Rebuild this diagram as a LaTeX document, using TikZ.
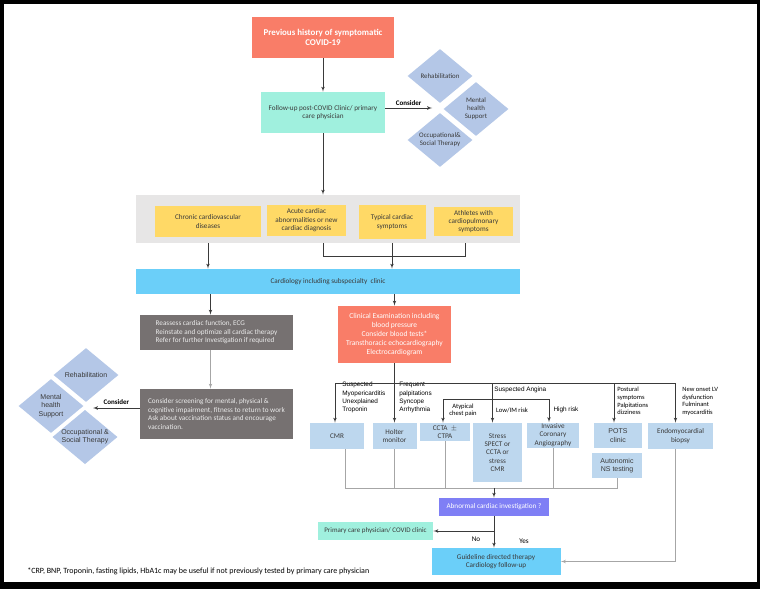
\documentclass[tikz,border=0pt]{standalone}
\usepackage{fontspec}
\setmainfont{Carlito}
\newfontfamily\arialfont{Liberation Sans}
\usetikzlibrary{shapes.geometric,arrows}
\definecolor{mysalmon}{HTML}{F97D68}
\definecolor{mymint}{HTML}{A0F0DE}
\definecolor{myband}{HTML}{E7E6E6}
\definecolor{myyellow}{HTML}{FFD966}
\definecolor{mycyan}{HTML}{6BCFF9}
\definecolor{mydark}{HTML}{767171}
\definecolor{mytest}{HTML}{BDD7EE}
\definecolor{mypad}{HTML}{B4C7E7}
\definecolor{mypurple}{HTML}{7F7FF5}
\definecolor{mytext}{HTML}{3A3A3A}
\definecolor{mygrey}{HTML}{A6A6A6}
\definecolor{myline}{HTML}{3A3A3A}
\tikzstyle{block} = [rectangle, align=center, inner sep=1pt, text=mytext,
font=\fontsize{7.2}{8.4}\selectfont]
\tikzstyle{pad} = [diamond, fill=mypad, aspect=1.2, inner sep=0pt, align=center, text=mytext,
minimum width=65pt, minimum height=54pt, font=\fontsize{6.9}{8}\selectfont]
\tikzstyle{lbl} = [align=left, inner sep=0pt, text=black, font=\arialfont\fontsize{6.4}{8.3}\selectfont]
\tikzstyle{line} = [draw=myline, -latex']
\tikzstyle{gline} = [draw=mygrey]

\begin{document}
\begin{tikzpicture}[x=1pt, y=-1pt, line width=0.7pt]
    \useasboundingbox (0,0) rectangle (760,589);
    % frame
    \fill[black] (0,0) rectangle (760,589);
    \fill[white] (4,4) rectangle (757,582);

    % Nodes
    \node [block, fill=mysalmon, text=white, font=\bfseries\fontsize{8.9}{10.5}\selectfont,
      minimum width=142pt, minimum height=41pt] (history) at (323,37.5) {Previous history of symptomatic\\COVID-19};
    \node [block, fill=mymint, minimum width=124pt, minimum height=41pt] (followup) at (323,112.5) {Follow-up post-COVID Clinic/ primary\\care physician};
    \node [pad] (rehabTop) at (440,76) {Rehabilitation};
    \node [pad] (mentalTop) at (476,109) {Mental\\health\\Support};
    \node [pad] (occupTop) at (440,140) {Occupational\&\\Social Therapy};

    \node [block, fill=myband, minimum width=384pt, minimum height=48pt] (band) at (328,219) {};
    \node [block, fill=myyellow, minimum width=106pt, minimum height=31pt] (chronic) at (208,221.5) {Chronic cardiovascular\\diseases};
    \node [block, fill=myyellow, minimum width=79pt, minimum height=31pt] (acute) at (306.5,220.5) {Acute cardiac\\abnormalities or new\\cardiac diagnosis};
    \node [block, fill=myyellow, minimum width=67pt, minimum height=34pt] (typical) at (392,222) {Typical cardiac\\symptoms};
    \node [block, fill=myyellow, minimum width=79pt, minimum height=29pt] (athletes) at (473.5,221.5) {Athletes with\\cardiopulmonary\\symptoms};

    \node [block, fill=mycyan, minimum width=384pt, minimum height=25pt] (cardio) at (328,281.5) {Cardiology including subspecialty\ \ clinic};

    \node [block, fill=mydark, text=white!92!black, align=left, minimum width=153pt, minimum height=35pt] (reassess) at (216.5,332.5) {Reassess cardiac function, ECG\\Reinstate and optimize all cardiac therapy\\Refer for further Investigation if required};
    \node [block, fill=mydark, text=white!92!black, align=left, minimum width=153pt, minimum height=50pt] (screen) at (216.5,414) {Consider screening for mental, physical \&\\cognitive impairment, fitness to return to work\\Ask about vaccination status and encourage\\vaccination.};
    \node [pad, font=\arialfont\fontsize{7}{8.2}\selectfont] (rehabLeft) at (86,375) {Rehabilitation};
    \node [pad, font=\arialfont\fontsize{7}{8.2}\selectfont] (mentalLeft) at (51,406) {Mental\\health\\Support};
    \node [pad, font=\arialfont\fontsize{7}{8.2}\selectfont] (occupLeft) at (85,437) {Occupational \&\\Social Therapy};

    \node [block, fill=mysalmon, text=white, font=\fontsize{7.5}{8.9}\selectfont, minimum width=113pt, minimum height=57pt] (clin) at (394.5,334.5) {Clinical Examination including\\blood pressure\\Consider blood tests*\\Transthoracic echocardiography\\Electrocardiogram};

    \node [block, fill=mytest, minimum width=54pt, minimum height=26pt] (cmr) at (337,436) {CMR};
    \node [block, fill=mytest, minimum width=44pt, minimum height=26pt] (holter) at (394.5,436) {Holter\\monitor};
    \node [block, fill=mytest, minimum width=50pt, minimum height=18pt] (ccta) at (445,432) {CCTA\ \ $\pm$\\CTPA};
    \node [block, fill=mytest, minimum width=49pt, minimum height=59pt] (stress) at (497.5,452.5) {Stress\\SPECT or\\CCTA or\\stress\\CMR};
    \node [block, fill=mytest, minimum width=52pt, minimum height=24pt] (invasive) at (553,435) {Invasive\\Coronary\\Angiography};
    \node [block, fill=mytest, font=\arialfont\fontsize{7}{8.2}\selectfont, minimum width=48pt, minimum height=25pt] (pots) at (618,435.5) {POTS\\clinic};
    \node [block, fill=mytest, font=\arialfont\fontsize{7}{8.2}\selectfont, minimum width=50pt, minimum height=25pt] (auto) at (617,465.5) {Autonomic\\NS testing};
    \node [block, fill=mytest, minimum width=65pt, minimum height=26pt] (endo) at (680.5,436) {Endomyocardial\\biopsy};

    \node [block, fill=mypurple, text=white, minimum width=110pt, minimum height=18pt] (abnormal) at (494,507) {Abnormal cardiac investigation ?};
    \node [block, fill=mymint, font=\fontsize{7}{8.2}\selectfont, minimum width=115pt, minimum height=18pt] (prim) at (375.5,531) {Primary care physician/ COVID clinic};
    \node [block, fill=mycyan, minimum width=129pt, minimum height=27pt] (guide) at (496,561.5) {Guideline directed therapy\\Cardiology follow-up};

    % labels
    \node [lbl, anchor=north west] (myoLbl) at (342,382) {Suspected\\Myopericarditis\\Unexplained\\Troponin};
    \node [lbl, anchor=north west] (palpLbl) at (399,382) {Frequent\\palpitations\\Syncope\\Arrhythmia};
    \node [lbl, anchor=west] (anginaLbl) at (494,390) {Suspected Angina};
    \node [lbl, align=center, font=\fontsize{6.6}{7.4}\selectfont] (atypLbl) at (463,410.5) {Atypical\\chest pain};
    \node [lbl, font=\fontsize{6.6}{7.4}\selectfont] (lowLbl) at (512,410) {Low/IM risk};
    \node [lbl] (highLbl) at (566,410) {High risk};
    \node [lbl, anchor=north west, font=\fontsize{6.5}{7.7}\selectfont] (postLbl) at (617,387) {Postural\\symptoms\\Palpitations\\dizziness};
    \node [lbl, anchor=north west, font=\fontsize{6.5}{7.7}\selectfont] (lvLbl) at (682,387) {New onset LV\\dysfunction\\Fulminant\\myocarditis};
    \node [lbl, font=\fontsize{7.2}{8.4}\selectfont] (noLbl) at (476,539) {No};
    \node [lbl, font=\fontsize{7.2}{8.4}\selectfont] (yesLbl) at (524,541) {Yes};
    \node [lbl, anchor=west, font=\fontsize{8}{9.4}\selectfont] (foot) at (27,571) {*CRP, BNP, Troponin, fasting lipids, HbA1c may be useful if not previously tested by primary care physician};

    % helper points
    \coordinate (tcons) at (432,108);
    \coordinate (lcons) at (93,408);
    \coordinate (join) at (0,256);
    \coordinate (split) at (0,383);
    \coordinate (asplit) at (0,399);
    \coordinate (coll) at (0,488);

    % arrows
    \draw[line] (history) -- (followup);
    \draw[line] (followup.south) -- (followup.south |- band.north);
    \draw[line] (tcons -| followup.east) -- node[above, inner sep=2pt, font=\bfseries\fontsize{7}{8.2}\selectfont] (consTop) {Consider} (tcons);

    \draw[line] (chronic.south |- band.south) -- (chronic.south |- cardio.north);
    \draw[line] (typical.south |- band.south) -- (typical.south |- cardio.north);
    \draw[myline] (followup.south |- band.south) -- (followup.south |- join) -| ([xshift=-8pt]athletes.south |- band.south);

    \draw[line] ([xshift=-6pt]reassess.north |- cardio.south) -- ([xshift=-6pt]reassess.north);
    \draw[gline, -latex'] ([xshift=-6pt]reassess.south) -- ([xshift=-6pt]screen.north);
    \draw[line] (lcons -| screen.west) -- node[above, inner sep=3pt, font=\bfseries\fontsize{7}{8.2}\selectfont] (consLeft) {Consider} (lcons);

    \draw[line] (clin.north |- cardio.south) -- (clin.north);
    \draw[line] (clin.south) -- (holter.north);
    \draw[line] (clin.south |- split) -| ([xshift=-2pt]cmr.north);
    \draw[line] (clin.south |- split) -| ([xshift=-5pt]endo.north);
    \draw[line] ([xshift=-4pt]pots.north |- split) -- ([xshift=-4pt]pots.north);
    \draw[line] ([xshift=-5pt]stress.north |- split) -- ([xshift=-5pt]stress.north);
    \draw[myline] ([xshift=-2pt]ccta.north |- asplit) -- ([xshift=-4pt]invasive.north |- asplit);
    \draw[line] ([xshift=-2pt]ccta.north |- asplit) -- ([xshift=-2pt]ccta.north);
    \draw[line] ([xshift=-4pt]invasive.north |- asplit) -- ([xshift=-4pt]invasive.north);

    \draw[gline] ([xshift=8pt]cmr.south) |- (auto.south |- coll) -- (auto.south);
    \foreach \n in {holter, ccta, invasive}
      \draw[gline] (\n.south) -- (\n.south |- coll);
    \draw[line] (abnormal.north |- coll) -- (abnormal.north);

    \draw[line] (abnormal.south) -- (abnormal.south |- guide.north);
    \draw[line] (abnormal.south |- prim.east) -- (prim.east);
    \draw[gline, -latex'] ([xshift=-5pt]endo.south) |- (guide.east);
\end{tikzpicture}
\end{document}
